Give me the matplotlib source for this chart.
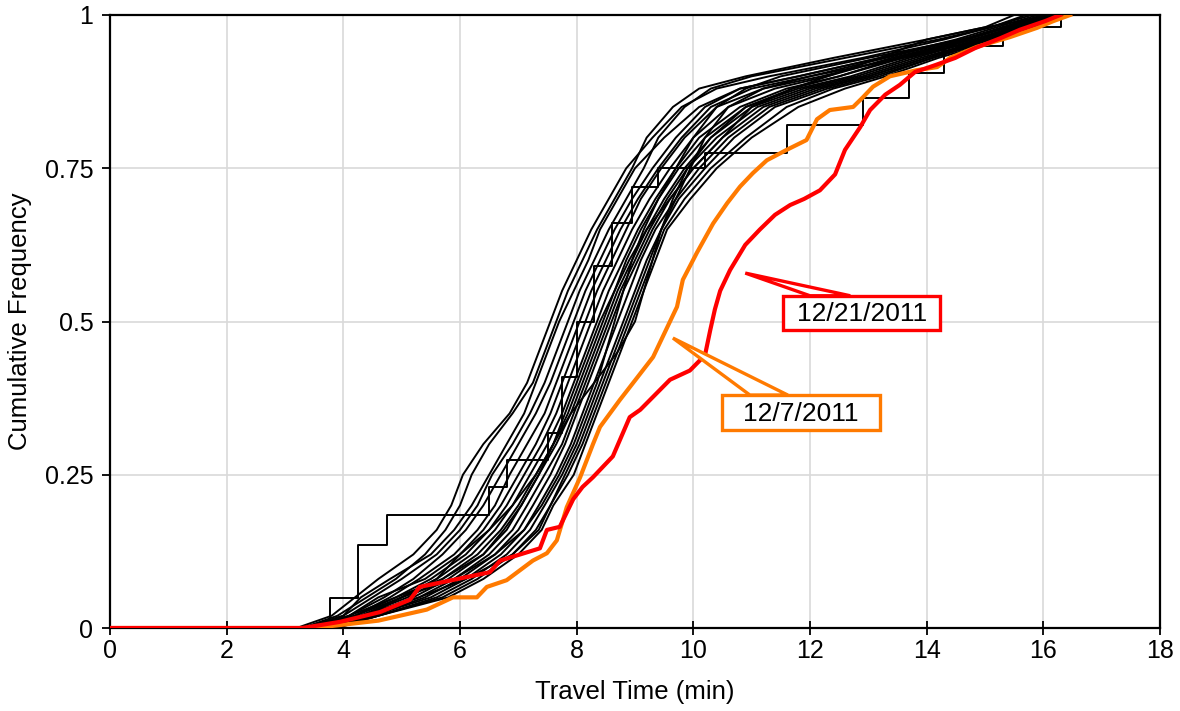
import matplotlib
matplotlib.use("Agg")
import matplotlib.pyplot as plt
from matplotlib.patches import Rectangle, Polygon

plt.rcParams['font.family'] = ['Liberation Sans', 'DejaVu Sans']

# cumulative-frequency levels at which the black (other days) curves are read
cum_levels = [0, 0.02, 0.05, 0.08, 0.12, 0.16, 0.20, 0.25, 0.30, 0.35, 0.40, 0.45, 0.50,
              0.55, 0.60, 0.65, 0.70, 0.75, 0.80, 0.85, 0.88, 0.90, 0.93, 0.96, 0.98, 1.00]

# travel time (min) reached by each black curve at those levels
other_days = [
    [3.2, 3.8, 4.2, 4.6, 5.2, 5.6, 5.85, 6.05, 6.4, 6.85, 7.15, 7.35, 7.55, 7.75, 8.00, 8.25, 8.55, 8.85, 9.30, 9.80, 10.4, 11.3, 12.9, 14.3, 15.1, 15.7],
    [3.3, 3.9, 4.4, 4.9, 5.4, 5.75, 6.00, 6.20, 6.50, 6.90, 7.25, 7.45, 7.65, 7.85, 8.10, 8.35, 8.65, 8.95, 9.20, 9.65, 10.1, 10.9, 12.4, 14.0, 15.0, 15.5],
    [3.4, 4.0, 4.3, 4.8, 5.5, 5.90, 6.20, 6.50, 6.80, 7.10, 7.30, 7.50, 7.70, 7.95, 8.20, 8.40, 8.70, 9.00, 9.50, 10.1, 10.8, 11.8, 13.2, 14.6, 15.3, 16.0],
    [3.3, 4.0, 4.5, 5.0, 5.6, 6.00, 6.30, 6.55, 6.90, 7.20, 7.45, 7.65, 7.85, 8.05, 8.30, 8.55, 8.85, 9.15, 9.40, 9.85, 10.3, 11.0, 12.6, 14.2, 15.1, 15.8],
    [3.5, 4.1, 4.7, 5.2, 5.7, 6.10, 6.40, 6.70, 7.00, 7.30, 7.55, 7.75, 7.95, 8.15, 8.40, 8.65, 8.95, 9.30, 9.70, 10.2, 10.8, 11.8, 13.2, 14.5, 15.2, 15.9],
    [3.4, 4.2, 4.8, 5.3, 5.9, 6.30, 6.60, 6.85, 7.15, 7.45, 7.65, 7.85, 8.05, 8.25, 8.50, 8.75, 9.05, 9.40, 9.80, 10.3, 11.0, 12.0, 13.3, 14.6, 15.4, 16.0],
    [3.6, 4.1, 4.6, 5.4, 6.0, 6.40, 6.70, 7.00, 7.30, 7.55, 7.75, 7.95, 8.15, 8.35, 8.60, 8.85, 9.10, 9.45, 9.85, 10.4, 11.2, 12.2, 13.5, 14.7, 15.3, 16.0],
    [3.5, 4.2, 4.9, 5.5, 6.1, 6.50, 6.80, 7.10, 7.40, 7.65, 7.85, 8.05, 8.25, 8.45, 8.70, 8.95, 9.25, 9.60, 10.0, 10.6, 11.4, 12.3, 13.4, 14.7, 15.4, 16.1],
    [3.6, 4.3, 5.0, 5.6, 6.2, 6.60, 6.90, 7.20, 7.50, 7.75, 7.95, 8.15, 8.35, 8.55, 8.80, 9.05, 9.35, 9.70, 10.1, 10.8, 11.6, 12.5, 13.6, 14.8, 15.5, 16.1],
    [3.7, 4.3, 5.1, 5.7, 6.3, 6.70, 7.00, 7.30, 7.60, 7.85, 8.05, 8.25, 8.45, 8.65, 8.85, 9.10, 9.40, 9.75, 10.2, 10.9, 11.8, 12.7, 13.7, 14.9, 15.5, 16.2],
    [3.6, 4.4, 5.2, 5.8, 6.4, 6.80, 7.05, 7.35, 7.65, 7.90, 8.10, 8.30, 8.50, 8.70, 8.95, 9.20, 9.50, 9.85, 10.3, 11.0, 11.9, 12.8, 13.8, 14.9, 15.6, 16.2],
    [3.7, 4.4, 5.3, 5.9, 6.5, 6.90, 7.15, 7.45, 7.75, 7.95, 8.15, 8.35, 8.55, 8.75, 9.00, 9.25, 9.55, 9.90, 10.4, 11.1, 12.0, 12.9, 13.9, 15.0, 15.6, 16.3],
    [3.8, 4.5, 5.4, 6.0, 6.6, 7.00, 7.25, 7.55, 7.80, 8.00, 8.20, 8.40, 8.60, 8.80, 9.05, 9.30, 9.60, 10.0, 10.5, 11.2, 12.1, 13.0, 14.0, 15.0, 15.6, 16.3],
    [3.7, 4.5, 5.5, 6.1, 6.7, 7.10, 7.35, 7.65, 7.90, 8.10, 8.30, 8.50, 8.70, 8.90, 9.10, 9.35, 9.70, 10.1, 10.6, 11.3, 12.2, 13.0, 14.0, 15.1, 15.7, 16.3],
    [3.8, 4.6, 5.6, 6.2, 6.8, 7.20, 7.45, 7.75, 8.00, 8.20, 8.40, 8.60, 8.80, 9.00, 9.20, 9.45, 9.75, 10.2, 10.7, 11.4, 12.3, 13.1, 14.1, 15.1, 15.7, 16.4],
    [3.8, 4.6, 5.7, 6.3, 6.9, 7.30, 7.55, 7.85, 8.10, 8.30, 8.50, 8.70, 8.90, 9.10, 9.30, 9.50, 9.85, 10.3, 10.9, 11.6, 12.4, 13.2, 14.1, 15.2, 15.8, 16.4],
    [3.9, 4.6, 5.8, 6.4, 7.0, 7.40, 7.60, 7.95, 8.15, 8.35, 8.55, 8.75, 8.95, 9.15, 9.35, 9.55, 9.95, 10.4, 11.0, 11.8, 12.6, 13.3, 14.2, 15.3, 15.8, 16.45],
    [3.5, 4.2, 5.0, 5.9, 6.6, 7.10, 7.40, 7.70, 7.95, 8.15, 8.35, 8.50, 8.65, 8.80, 8.95, 9.15, 9.40, 9.70, 10.0, 10.4, 10.9, 11.5, 13.0, 14.6, 15.4, 16.2],
    [3.6, 4.3, 5.3, 6.1, 6.9, 7.35, 7.55, 7.80, 8.05, 8.25, 8.45, 8.65, 8.85, 9.05, 9.25, 9.45, 9.70, 9.95, 10.2, 10.6, 11.2, 12.0, 13.6, 15.0, 15.7, 16.3],
    [3.4, 4.1, 4.9, 5.7, 6.4, 6.75, 7.05, 7.35, 7.60, 7.80, 8.00, 8.20, 8.40, 8.65, 8.90, 9.20, 9.60, 10.0, 10.5, 11.0, 11.7, 12.5, 13.5, 14.8, 15.5, 16.1],
    [3.5, 4.4, 5.0, 5.6, 6.0, 6.50, 6.90, 7.30, 7.60, 7.90, 8.30, 8.70, 9.00, 9.15, 9.30, 9.45, 9.65, 9.90, 10.3, 10.9, 11.7, 12.3, 13.2, 14.0, 15.0, 16.2],
]

# a coarse (few-sample) day drawn as stairs
coarse_time = [0, 3.77, 4.25, 4.75, 6.5, 6.8, 7.5, 7.75, 8.0, 8.3, 8.6, 8.95, 9.4, 10.2, 11.6, 12.9, 13.7, 14.3, 15.3, 16.3]
coarse_freq = [0, 0.049, 0.135, 0.184, 0.23, 0.274, 0.318, 0.41, 0.50, 0.59, 0.66, 0.72, 0.75, 0.775, 0.82, 0.865, 0.905, 0.95, 0.98, 1.0]

# 12/7/2011 (orange)
dec7_time = [0, 3.5, 4.6, 5.43, 5.88, 6.29, 6.46, 6.8, 7.25, 7.49, 7.66, 7.83, 8.06, 8.28, 8.4, 8.74,
             9.05, 9.31, 9.55, 9.72, 9.82, 10.06, 10.34, 10.58, 10.8, 11.02, 11.26, 11.6, 11.94,
             12.12, 12.34, 12.74, 12.91, 13.08, 13.37, 13.83, 14.18, 14.4, 14.86, 15.43, 15.89, 16.17, 16.46]
dec7_freq = [0, 0, 0.012, 0.03, 0.05, 0.05, 0.067, 0.078, 0.11, 0.122, 0.143, 0.197, 0.246, 0.30, 0.328, 0.372,
             0.41, 0.442, 0.49, 0.524, 0.568, 0.612, 0.66, 0.693, 0.72, 0.742, 0.763, 0.78, 0.796,
             0.83, 0.845, 0.85, 0.866, 0.883, 0.90, 0.91, 0.915, 0.93, 0.948, 0.964, 0.979, 0.99, 1.0]

# 12/21/2011 (red)
dec21_time = [0, 3.3, 3.94, 4.63, 5.14, 5.31, 6.51, 6.69, 7.37, 7.49, 7.71, 7.94, 8.1, 8.28, 8.62, 8.91,
              9.09, 9.34, 9.6, 9.94, 10.2, 10.29, 10.37, 10.46, 10.63, 10.89, 11.14, 11.4, 11.66, 11.9,
              12.17, 12.43, 12.6, 12.86, 13.03, 13.29, 13.54, 13.8, 14.14, 14.49, 14.83, 15.26, 15.6, 16.03, 16.29]
dec21_freq = [0, 0, 0.01, 0.026, 0.046, 0.067, 0.091, 0.11, 0.13, 0.16, 0.165, 0.21, 0.23, 0.246, 0.28, 0.344,
              0.356, 0.38, 0.405, 0.42, 0.445, 0.486, 0.52, 0.55, 0.584, 0.625, 0.65, 0.674, 0.69, 0.70,
              0.714, 0.74, 0.78, 0.817, 0.845, 0.87, 0.886, 0.907, 0.918, 0.93, 0.946, 0.962, 0.976, 0.99, 1.0]

x_ticks = [0, 2, 4, 6, 8, 10, 12, 14, 16, 18]
y_ticks = [0, 0.25, 0.5, 0.75, 1]
y_tick_labels = ['0', '0.25', '0.5', '0.75', '1']

fig = plt.figure(figsize=(11.8, 7.11), dpi=100)
ax = fig.add_axes([110 / 1180, 1 - 628 / 711, 1050 / 1180, 613 / 711])

for xs in other_days:
    ax.plot([0] + xs, [0] + cum_levels, color='black', lw=1.4, zorder=3)
ax.plot(coarse_time, coarse_freq, color='black', lw=1.4, drawstyle='steps-post', zorder=3)

ax.plot(dec7_time, dec7_freq, color='#ff7a00', lw=3.0, zorder=4)
ax.plot(dec21_time, dec21_freq, color='#ff0000', lw=3.0, zorder=5)

ax.set_xlim(0, 18)
ax.set_ylim(0, 1)
ax.set_xticks(x_ticks)
ax.set_yticks(y_ticks)
ax.set_yticklabels(y_tick_labels)
ax.grid(True, color='#d9d9d9', lw=1.2, zorder=0)
ax.set_axisbelow(True)
for s in ax.spines.values():
    s.set_color('black')
    s.set_linewidth(1.6)
ax.tick_params(axis='x', direction='inout', length=10, width=1.3, labelsize=18, pad=3)
ax.tick_params(axis='y', direction='out', length=6, width=1.3, labelsize=18, pad=6)
ax.set_xlabel('Travel Time (min)', fontsize=18.5, labelpad=12)
ax.set_ylabel('Cumulative Frequency', fontsize=18.5, labelpad=9)

# callouts
ax.add_patch(Polygon([(10.89, 0.579), (12.0, 0.542), (12.69, 0.542)], closed=True,
                     facecolor='white', edgecolor='#ff0000', lw=2.4, zorder=6))
ax.add_patch(Rectangle((11.54, 0.486), 2.69, 0.056, facecolor='white', edgecolor='#ff0000', lw=2.4, zorder=7))
ax.text(12.885, 0.512, '12/21/2011', ha='center', va='center', fontsize=19, zorder=8)

ax.add_patch(Polygon([(9.65, 0.473), (10.97, 0.38), (11.62, 0.38)], closed=True,
                     facecolor='white', edgecolor='#ff7a00', lw=2.4, zorder=6))
ax.add_patch(Rectangle((10.49, 0.323), 2.71, 0.057, facecolor='white', edgecolor='#ff7a00', lw=2.4, zorder=7))
ax.text(11.845, 0.349, '12/7/2011', ha='center', va='center', fontsize=19, zorder=8)

fig.savefig('out.png', dpi=100)
